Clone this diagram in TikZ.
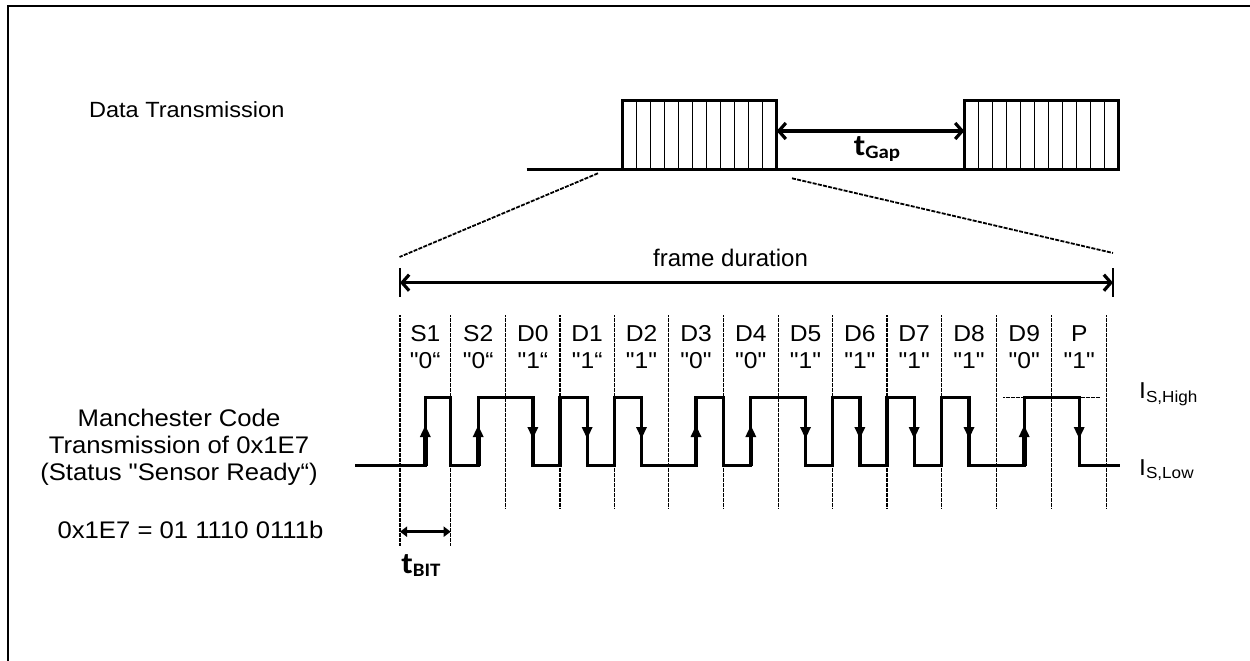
\documentclass[tikz,border=0pt]{standalone}
\usepackage{fontspec}
\setmainfont{Liberation Sans}[FakeStretch=1.07,Ligatures=TeXOff]
\newfontfamily\fdfont{Liberation Sans}[Ligatures=TeXOff]
\newfontfamily\tfont{Carlito}[FakeStretch=1.1]
\usetikzlibrary{arrows.meta}
\tikzset{
  txt/.style={inner sep=0pt, anchor=base},
  wave/.style={line width=3.3pt, line join=miter, line cap=butt},
  divider/.style={line width=1.5pt, dash pattern=on 2pt off 0.5pt},
  zoomline/.style={line width=1.8pt, dash pattern=on 4pt off 1.3pt},
  dimarrow/.style={line width=3.2pt, {Straight Barb[length=7pt,width=16pt,line width=3.2pt]}-{Straight Barb[length=7pt,width=16pt,line width=3.2pt]}},
  bitarrow/.style={line width=3.2pt, {Triangle[length=7pt,width=10pt]}-{Triangle[length=7pt,width=10pt]}},
  tick/.style={line width=1.2pt},
  frameline/.style={line width=2.9pt},
  cellline/.style={line width=1.1pt},
}
\begin{document}
\begin{tikzpicture}[x=1pt,y=-1pt]
\useasboundingbox (0,0) rectangle (1250,661);
% border (top and left)
\draw[line width=2.2pt] (8,661) -- (8,6) -- (1250,6);

% ---------- top: data transmission ----------
\node[txt] (dt) at (186.7,117.3) {\fontsize{22}{24}\selectfont Data Transmission};
\draw[frameline] (526.7,169.3) -- (1119.5,169.3);
\foreach \x in {622.3,964.3}{
  \draw[frameline] (\x,169.3) rectangle ++(154.4,-68.6);
  \foreach \k in {1,...,10}{
    \draw[cellline] ({\x+\k*154.4/11},100.7) -- ({\x+\k*154.4/11},169.3);
  }
}
\coordinate (gapL) at (776.7,131);
\coordinate (gapR) at (964.3,131);
\draw[dimarrow] (gapL) -- (gapR);
\node[txt] (tgap) at (877,155) {\tfont\bfseries\fontsize{30}{30}\selectfont t\raisebox{-3.5pt}{\fontsize{19}{19}\selectfont Gap}};

% zoom lines
\coordinate (zl1) at (598,173.3);
\coordinate (zl2) at (399.5,257);
\coordinate (zr1) at (792,178.3);
\coordinate (zr2) at (1113,253);
\draw[zoomline] (zl1) -- (zl2);
\draw[zoomline] (zr1) -- (zr2);

% frame duration
\coordinate (fdL) at (400,282.7);
\coordinate (fdR) at (1113,282.7);
\draw[tick] (400,268) -- (400,297);
\draw[tick] (1113,268) -- (1113,297);
\draw[dimarrow] (fdL) -- (fdR);
\node[txt, anchor=base west] (fd) at (653,266.7) {\fdfont\fontsize{24}{26}\selectfont frame duration};

% ---------- dividers ----------
\draw[divider] (400,315) -- (400,546);
\draw[divider] (450.7,315) -- (450.7,546);
\foreach \x in {505.7,560,614.3,668.7,723.3,778.3,832.7,887,941.3,996.7,1051.7,1106.7}{
  \draw[divider] (\x,315) -- (\x,509);
}

% ---------- bit labels ----------
\foreach \lab/\val/\xc in {S1/"0“/425.3, S2/"0“/478.2, D0/"1“/532.85, D1/"1“/587.15, D2/"1"/641.5, D3/"0"/696, D4/"0"/750.8, D5/"1"/805.5, D6/"1"/859.85, D7/"1"/914.15, D8/"1"/969, D9/"0"/1024.2, P/"1"/1079.2}{
  \node[txt] at (\xc,341.7) {\fontsize{23}{24}\selectfont \lab};
  \node[txt] at (\xc,368.3) {\fontsize{23}{24}\selectfont \val};
}

% ---------- waveform ----------
\def\H{397.7}
\def\L{465.7}
\draw[wave] (355,\L) -- (425.3,\L) -- (425.3,\H) -- (450.7,\H) -- (450.7,\L)
  -- (478.2,\L) -- (478.2,\H) -- (532.85,\H) -- (532.85,\L) -- (560,\L)
  -- (560,\H) -- (587.15,\H) -- (587.15,\L) -- (614.3,\L)
  -- (614.3,\H) -- (641.5,\H) -- (641.5,\L) -- (696,\L)
  -- (696,\H) -- (723.3,\H) -- (723.3,\L) -- (750.8,\L)
  -- (750.8,\H) -- (805.5,\H) -- (805.5,\L) -- (832.7,\L)
  -- (832.7,\H) -- (859.85,\H) -- (859.85,\L) -- (887,\L)
  -- (887,\H) -- (914.15,\H) -- (914.15,\L) -- (941.3,\L)
  -- (941.3,\H) -- (969,\H) -- (969,\L) -- (1024.2,\L)
  -- (1024.2,\H) -- (1079.2,\H) -- (1079.2,\L) -- (1120,\L);
% dotted high level marker
\draw[divider] (1003,\H) -- (1100,\H);
% rising edge arrows (bit 0)
\foreach \m in {425.3,478.2,696,750.8,1024.2}{
  \draw[line width=4.6pt] (\m,\L) -- (\m,432);
  \fill (\m-5.5,437) -- (\m+5.5,437) -- (\m,425.5) -- cycle;
}
% falling edge arrows (bit 1)
\foreach \m in {532.85,587.15,641.5,805.5,859.85,914.15,969,1079.2}{
  \fill (\m-5.5,427) -- (\m+5.5,427) -- (\m,438.5) -- cycle;
}

% level labels
\node[txt, anchor=base west] (ish) at (1139,398.3) {\fontsize{23}{23}\selectfont I\raisebox{-3.7pt}{\fontsize{16}{16}\selectfont S,High}};
\node[txt, anchor=base west] (isl) at (1139,475) {\fontsize{23}{23}\selectfont I\raisebox{-3.7pt}{\fontsize{16}{16}\selectfont S,Low}};

% t_BIT
\coordinate (tbL) at (400,531.7);
\coordinate (tbR) at (450.7,531.7);
\draw[bitarrow] (tbL) -- (tbR);
\node[txt] (tbit) at (421,573) {\tfont\bfseries\fontsize{30}{30}\selectfont t\raisebox{-3.5pt}{\fontsize{19}{19}\selectfont BIT}};

% ---------- left text ----------
\node[txt] (mc1) at (179,426.7) {\fontsize{24}{26}\selectfont Manchester Code};
\node[txt] (mc2) at (179,453.3) {\fontsize{24}{26}\selectfont Transmission of 0x1E7};
\node[txt] (mc3) at (179,480) {\fontsize{24}{26}\selectfont (Status "Sensor Ready“)};
\node[txt] (hex) at (190.5,538.3) {\fontsize{24}{26}\selectfont 0x1E7 = 01 1110 0111b};
\end{tikzpicture}
\end{document}
